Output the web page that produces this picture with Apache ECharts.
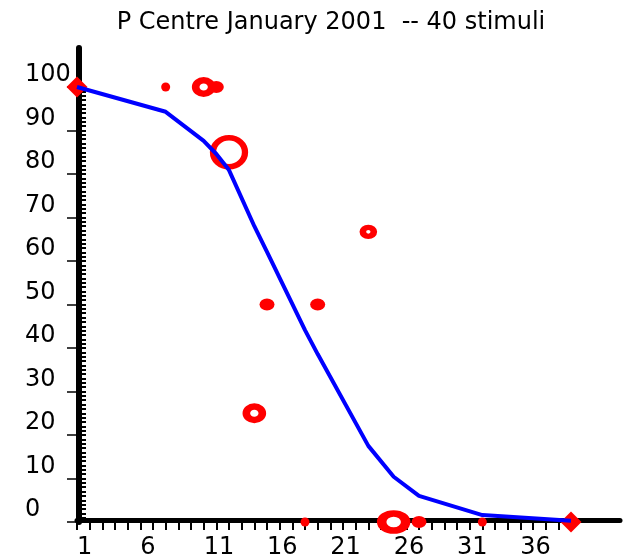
<!DOCTYPE html>
<html><head><meta charset="utf-8">
<script src="https://cdn.jsdelivr.net/npm/echarts@6/dist/echarts.min.js"></script>
<style>html,body{margin:0;padding:0;background:#fff}#c{width:630px;height:560px}</style>
</head><body><div id="c"></div>
<script>
// ---- data ----
const titleText = 'P Centre January 2001  -- 40 stimuli';
const stimMin = 1, stimMax = 40;
// fitted curve (blue)
const fitX = [1, 8, 11, 12, 13, 15, 16, 19, 20, 24, 26, 28, 33, 40];
const fitY = [100, 94.3, 87.6, 84.6, 80.9, 68.0, 62.1, 44.1, 38.6, 17.5, 10.4, 6.0, 1.6, 0.3];
// responses (red), n = number of responses at that point
const respX = [8, 11, 12, 13, 15, 16, 19, 20, 24, 26, 28, 33];
const respY = [100, 100, 100, 85, 25, 50, 0, 50, 66.7, 0, 0, 0];
const respN = [1, 4, 2, 6, 4, 2, 1, 2, 3, 5, 2, 1];
// end anchors
const endX = [1, 40];
const endY = [100, 0];
const yTickMin = 0, yTickMax = 100, yTickStep = 10;
const xLabelStep = 5, xLastLabel = 36;

// ---- layout ----
const FONT = 'DejaVu Sans';
const RED = '#ff0000', BLUE = '#0000ff';
const gLeft = 77, gBottom = 38, gTop = 48, gRight = 10;
const tickGridWidth = 494;              // pixel span from stimulus 1 to 40
const pxPerX = tickGridWidth / (stimMax - stimMin);
const mainXMax = stimMin + (630 - gLeft - gRight) / pxPerX;
const yTopTick = 87;                    // pixel of value 100
const pxPerY = (560 - gBottom - yTopTick) / (yTickMax - yTickMin);
const mainYMax = yTickMax + (yTopTick - gTop) / pxPerY;

function respStyle(n) {
  const filled = (s) => ({ symbolSize: s, itemStyle: { color: RED, borderWidth: 0, opacity: 1 } });
  const ring = (s, w, fill) => ({ symbolSize: s, itemStyle: { color: fill || '#fff', borderColor: RED, borderWidth: w, opacity: 1 } });
  if (n === 1) return filled(9);
  if (n === 2) return filled([15, 12]);
  if (n === 3) return ring([11, 9], 6);
  if (n === 4) return ring([16, 13.5], 7);
  if (n === 5) return ring([24, 17], 8);
  return ring([32, 29], 6, 'rgba(255,255,255,0)');
}

const respData = respX.map((x, i) => Object.assign({ value: [x, respY[i]] }, respStyle(respN[i])));
const fitData = fitX.map((x, i) => [x, fitY[i]]);
const endData = endX.map((x, i) => [x, endY[i]]);

const chart = echarts.init(document.getElementById('c'), null, { renderer: 'canvas' });
chart.setOption({
  animation: false,
  backgroundColor: '#fff',
  title: {
    text: titleText, left: 326, top: 6, textAlign: 'center',
    textStyle: { fontFamily: FONT, fontSize: 24, fontWeight: 'normal', color: '#000' }
  },
  grid: [
    { left: gLeft, top: gTop, right: gRight, bottom: gBottom },
    { left: gLeft, top: yTopTick, right: gRight, bottom: gBottom },
    { left: gLeft, width: tickGridWidth, top: gTop, bottom: gBottom }
  ],
  xAxis: [
    { gridIndex: 0, type: 'value', min: stimMin, max: mainXMax, offset: -1.5,
      axisLine: { onZero: false, lineStyle: { color: '#000', width: 5 } },
      axisTick: { show: false }, axisLabel: { show: false }, splitLine: { show: false } },
    { gridIndex: 1, type: 'value', min: stimMin, max: mainXMax,
      axisLine: { show: false }, axisTick: { show: false }, axisLabel: { show: false }, splitLine: { show: false } },
    { gridIndex: 2, type: 'value', min: stimMin, max: stimMax, interval: 1,
      axisLine: { show: false, onZero: false },
      axisTick: { show: true, length: 9, lineStyle: { color: '#000', width: 2 } },
      axisLabel: {
        show: true, align: 'left', margin: 15,
        fontFamily: FONT, fontSize: 24, color: '#000',
        formatter: v => ((v - stimMin) % xLabelStep === 0 && v <= xLastLabel) ? String(v) : ''
      },
      splitLine: { show: false } }
  ],
  yAxis: [
    { gridIndex: 0, type: 'value', min: yTickMin, max: mainYMax, offset: -1.5,
      axisLine: { show: true, onZero: false, lineStyle: { color: '#000', width: 6 } },
      axisTick: { show: false }, axisLabel: { show: false }, splitLine: { show: false } },
    { gridIndex: 1, type: 'value', position: 'left', min: yTickMin, max: yTickMax, interval: yTickStep,
      axisLine: { show: false, onZero: false },
      axisTick: { show: true, length: 10, lineStyle: { color: '#000', width: 1.5 } },
      axisLabel: { show: true, align: 'left', verticalAlign: 'bottom', margin: 52,
        fontFamily: FONT, fontSize: 24, color: '#000', padding: [0, 0, 0, 0] },
      splitLine: { show: false } },
    { gridIndex: 1, type: 'value', position: 'left', min: yTickMin, max: yTickMax, interval: 1,
      axisLine: { show: false, onZero: false },
      axisTick: { show: true, inside: true, length: 9, lineStyle: { color: '#000', width: 2 } },
      axisLabel: { show: false }, splitLine: { show: false } },
    { gridIndex: 2, type: 'value', min: yTickMin, max: mainYMax,
      axisLine: { show: false }, axisTick: { show: false }, axisLabel: { show: false }, splitLine: { show: false } }
  ],
  series: [
    { type: 'scatter', xAxisIndex: 0, yAxisIndex: 0, symbol: 'circle', data: respData, z: 3, silent: true },
    { type: 'scatter', xAxisIndex: 0, yAxisIndex: 0, symbol: 'diamond', symbolSize: 21,
      itemStyle: { color: RED, opacity: 1 }, data: endData, z: 3, silent: true },
    { type: 'line', xAxisIndex: 0, yAxisIndex: 0, data: fitData, showSymbol: false, symbol: 'none',
      smooth: false,
      lineStyle: { color: BLUE, width: 4 }, z: 4, silent: true }
  ]
});
</script></body></html>
